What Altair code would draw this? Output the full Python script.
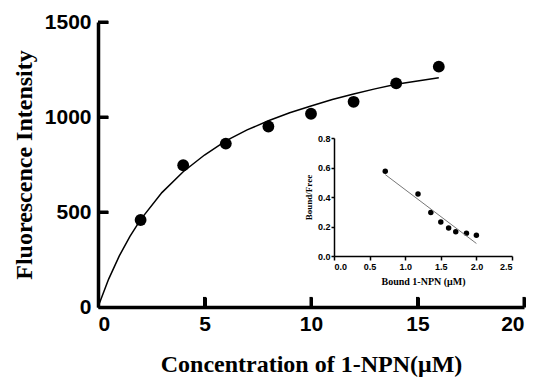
import altair as alt
import pandas as pd

# Main saturation binding data
conc = [2, 4, 6, 8, 10, 12, 14, 16]
intensity = [458, 746, 860, 950, 1017, 1080, 1177, 1265]

# Fitted saturation curve
curve_x = [0, 0.5, 1, 1.5, 2, 3, 4, 5, 6, 7, 8, 9, 10, 11, 12, 13, 14, 15, 16]
curve_y = [0, 147, 269, 372, 460, 602, 712, 800, 874, 932, 980, 1022, 1058, 1092, 1121, 1148, 1172, 1190, 1206]

# Scatchard inset data
bound = [0.72, 1.18, 1.36, 1.50, 1.61, 1.71, 1.86, 2.00]
bound_free = [0.575, 0.42, 0.295, 0.23, 0.19, 0.165, 0.155, 0.14]
fit_x = [0.72, 2.0]
fit_y = [0.552, 0.085]

x_ticks = [0, 5, 10, 15, 20]
y_ticks = [0, 500, 1000, 1500]
inset_x_ticks = [0.0, 0.5, 1.0, 1.5, 2.0, 2.5]
inset_y_ticks = [0.0, 0.2, 0.4, 0.6, 0.8]

W, H = 426, 285
TICK_LEN_Y = 53  # ~10 px of the main y scale, for inward x ticks
TICK_LEN_X = 0.48  # ~10 px of the main x scale, for inward y ticks

main_df = pd.DataFrame({"x": conc, "y": intensity})
curve_df = pd.DataFrame({"x": curve_x, "y": curve_y})
xt_df = pd.DataFrame({"x": x_ticks[1:]})
yt_df = pd.DataFrame({"y": y_ticks[1:]})
inset_df = pd.DataFrame({"x": bound, "y": bound_free})
fit_df = pd.DataFrame({"x": fit_x, "y": fit_y})

SANS = "Liberation Sans"
SERIF = "Liberation Serif"

x_axis = alt.Axis(
    title="Concentration of 1-NPN(\u03bcM)", tickCount=len(x_ticks) - 1, format="d", grid=False,
    domainColor="black", domainWidth=3.5, tickSize=0, labelPadding=6,
    labelFont=SANS, labelFontWeight="bold", labelFontSize=21, labelColor="black",
    titleFont=SERIF, titleFontWeight="bold", titleFontSize=24, titleColor="black",
    titlePadding=18,
)
y_axis = alt.Axis(
    title="Fluorescence Intensity", tickCount=len(y_ticks) - 1, format="d", grid=False,
    domainColor="black", domainWidth=3.5, tickSize=0, labelPadding=7,
    labelFont=SANS, labelFontWeight="bold", labelFontSize=21, labelColor="black",
    titleFont=SERIF, titleFontWeight="bold", titleFontSize=24, titleColor="black",
    titlePadding=8,
)
# inward ticks: an axis on the opposite side, shifted onto the main axis line
x_tick_axis = alt.Axis(
    orient="top", offset=-H, tickCount=len(x_ticks) - 1, labels=False, domain=False, grid=False,
    title="", tickSize=10, tickWidth=3, tickColor="black",
)
y_tick_axis = alt.Axis(
    orient="right", offset=-W, tickCount=len(y_ticks) - 1, labels=False, domain=False, grid=False,
    title="", tickSize=10, tickWidth=3, tickColor="black",
)

xs = alt.Scale(domain=[0, 20], nice=False)
ys = alt.Scale(domain=[0, 1500], nice=False)

pts = alt.Chart(main_df).mark_circle(size=140, color="black", opacity=1).encode(
    x=alt.X("x:Q", scale=xs, axis=x_axis), y=alt.Y("y:Q", scale=ys, axis=y_axis)
)
curve = alt.Chart(curve_df).mark_line(color="black", strokeWidth=1.5).encode(
    x=alt.X("x:Q", scale=xs), y=alt.Y("y:Q", scale=ys)
)
xrules = alt.Chart(xt_df).mark_rule(color="black", strokeWidth=3).encode(
    x=alt.X("x:Q", scale=xs), y=alt.datum(0), y2=alt.datum(TICK_LEN_Y)
)
yrules = alt.Chart(yt_df).mark_rule(color="black", strokeWidth=3).encode(
    y=alt.Y("y:Q", scale=ys), x=alt.datum(0), x2=alt.datum(TICK_LEN_X)
)
main = alt.layer(pts, curve, xrules, yrules)

ticks = alt.Chart(main_df).mark_point(opacity=0).encode(
    x=alt.X("x:Q", scale=xs, axis=x_tick_axis), y=alt.Y("y:Q", scale=ys, axis=y_tick_axis)
)

ix_axis = alt.Axis(
    title="Bound 1-NPN (\u03bcM)", tickCount=len(inset_x_ticks) - 1, format=".1f", grid=False,
    orient="bottom", offset=-51,
    domainColor="black", domainWidth=1.5, tickColor="black", tickWidth=1.5, tickSize=4,
    labelPadding=2, labelFont=SANS, labelFontWeight="bold", labelFontSize=9, labelColor="black",
    titleFont=SERIF, titleFontWeight="bold", titleFontSize=10, titleColor="black", titlePadding=5,
)
iy_axis = alt.Axis(
    title="Bound/Free", tickCount=len(inset_y_ticks) - 1, format=".1f", grid=False,
    orient="left", offset=-236,
    domainColor="black", domainWidth=1.5, tickColor="black", tickWidth=1.5, tickSize=3,
    labelPadding=1, labelFont=SANS, labelFontWeight="bold", labelFontSize=9, labelColor="black",
    titleFont=SERIF, titleFontWeight="bold", titleFontSize=9, titleColor="black", titlePadding=4,
)
ixs = alt.Scale(domain=[0, 2.5], range=[236, 414], nice=False)
iys = alt.Scale(domain=[0, 0.8], range=[234, 116], nice=False)

ipts = alt.Chart(inset_df).mark_circle(size=30, color="black", opacity=1).encode(
    x=alt.X("x:Q", scale=ixs, axis=ix_axis), y=alt.Y("y:Q", scale=iys, axis=iy_axis)
)
iline = alt.Chart(fit_df).mark_line(color="#777777", strokeWidth=1).encode(
    x=alt.X("x:Q", scale=ixs), y=alt.Y("y:Q", scale=iys)
)
inset = alt.layer(ipts, iline)

chart = (
    alt.layer(main, ticks, inset)
    .resolve_scale(x="independent", y="independent")
    .properties(
        width=W, height=H, autosize="none",
        padding={"left": 90, "top": 14, "right": 18, "bottom": 70},
    )
    .configure_view(stroke="transparent")
)

chart.save("out.html", embed_options={"renderer": "svg", "actions": False})
